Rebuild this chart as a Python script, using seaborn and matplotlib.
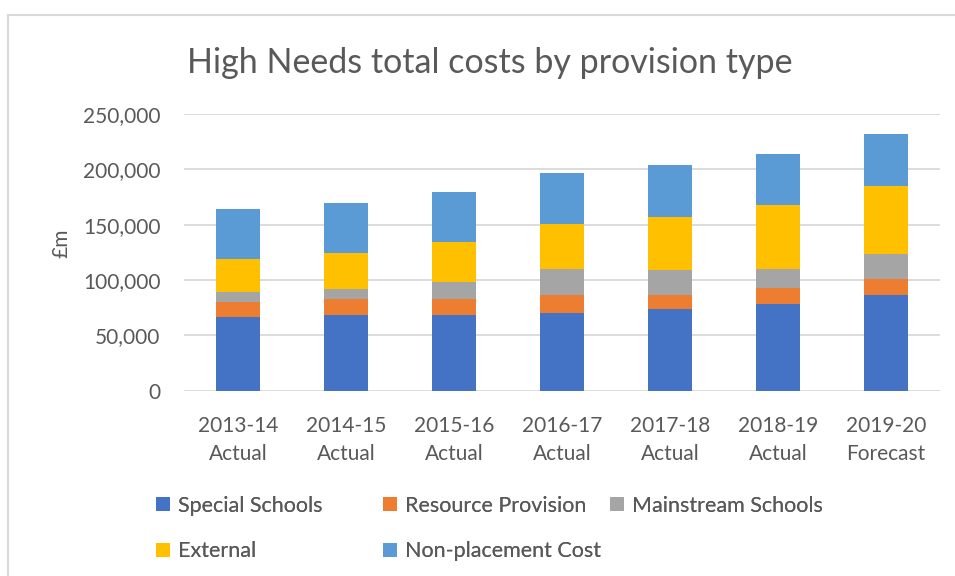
import numpy as np
import pandas as pd
import matplotlib.pyplot as plt
import seaborn as sns
from matplotlib.patches import Rectangle, Patch
from matplotlib.ticker import FuncFormatter

# values (£m)
years = ["2013-14\nActual", "2014-15\nActual", "2015-16\nActual", "2016-17\nActual",
         "2017-18\nActual", "2018-19\nActual", "2019-20\nForecast"]
special_schools = [66900, 68100, 68100, 70500, 73800, 78600, 86500]
resource_provision = [13000, 14700, 14700, 16000, 12700, 13900, 14200]
mainstream_schools = [9000, 9400, 15400, 23200, 22300, 17200, 23100]
external = [30100, 32500, 35900, 40600, 48400, 58100, 61400]
non_placement = [45400, 45200, 45200, 46400, 46400, 46300, 46500]

series = ["Special Schools", "Resource Provision", "Mainstream Schools", "External", "Non-placement Cost"]
colors = ["#4472C4", "#ED7D31", "#A5A5A5", "#FFC000", "#5B9BD5"]

df = pd.DataFrame({"year": years,
                   "Special Schools": special_schools,
                   "Resource Provision": resource_provision,
                   "Mainstream Schools": mainstream_schools,
                   "External": external,
                   "Non-placement Cost": non_placement})
cum = df[series].cumsum(axis=1)

sns.set_style("white")
plt.rcParams['font.family'] = ['Lato', 'DejaVu Sans']
grey = "#595959"

fig = plt.figure(figsize=(9.55, 5.76), dpi=100)
ax = fig.add_axes([184/955, 1-390.7/576, (940-184)/955, (390.7-114)/576])

# stacked bars: draw the running totals from the top layer down
for s, c in zip(series[::-1], colors[::-1]):
    sns.barplot(x=df["year"], y=cum[s], color=c, width=0.4, saturation=1,
                ax=ax, zorder=3, edgecolor="none")

ax.set_ylim(0, 250000)
ax.set_yticks(range(0, 250001, 50000))
ax.yaxis.set_major_formatter(FuncFormatter(lambda v, p: f"{int(v):,}"))
ax.yaxis.grid(True, color="#D9D9D9", lw=1.3, zorder=0)
ax.set_axisbelow(True)
for sp in ax.spines.values():
    sp.set_visible(False)
ax.tick_params(axis="y", length=0, pad=17, labelsize=15, labelcolor=grey)
ax.tick_params(axis="x", length=0, pad=18, labelsize=15, labelcolor=grey)
for t in ax.get_xticklabels():
    t.set_linespacing(1.55)
ax.set_xlabel("")
ax.set_ylabel("")
fig.text(61/955, 1-243/576, "£m", rotation=90, fontsize=15, color=grey, ha="center", va="center")

fig.text(490/955, 1-63/576, "High Needs total costs by provision type",
         fontsize=24.5, color=grey, ha="center", va="center")

# chart border
fig.patches.append(Rectangle((8/955, -0.1), 1.1, 1-15/576 + 0.1, transform=fig.transFigure,
                             fill=False, edgecolor="#D9D9D9", lw=1.5))

# legend: three columns placed like the reference
handles = [Patch(facecolor=c, edgecolor="none") for c in colors]
cols = [([0, 3], 147), ([1, 4], 374), ([2], 601)]
for idx, x0 in cols:
    leg = fig.legend([handles[i] for i in idx], [series[i] for i in idx],
                     loc="upper left", bbox_to_anchor=(x0/955, 1-487/576),
                     frameon=False, fontsize=15.5, labelcolor=grey,
                     handlelength=0.65, handleheight=0.65, handletextpad=0.4,
                     labelspacing=1.2, borderaxespad=0)
    fig.add_artist(leg)

fig.savefig("out.png", dpi=100)
